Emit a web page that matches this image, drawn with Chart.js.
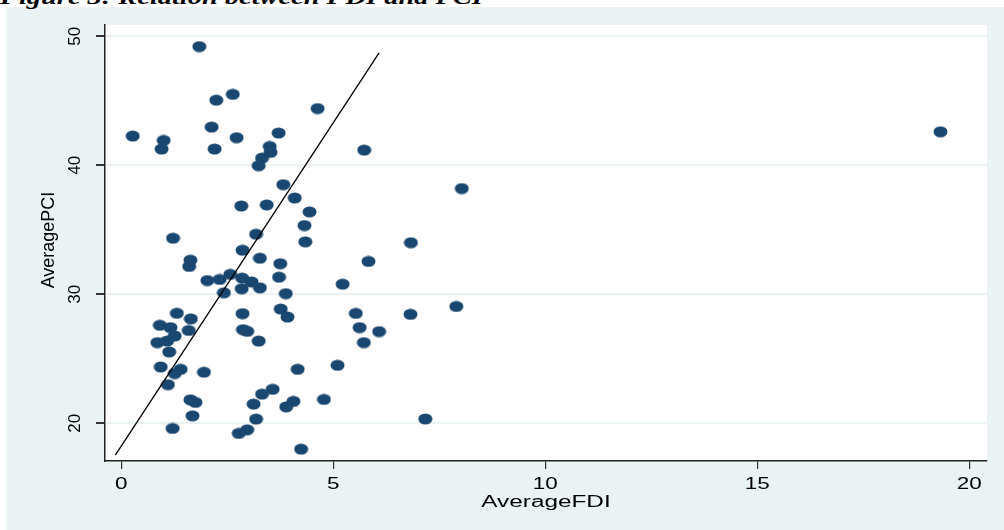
<!DOCTYPE html>
<html>
<head>
<meta charset="utf-8">
<script src="https://cdn.jsdelivr.net/npm/chart.js@4/dist/chart.umd.min.js"></script>
<style>
  html, body { margin: 0; padding: 0; background: #ffffff; width: 1004px; height: 530px; overflow: hidden; position: relative; }
  #panel { position: absolute; left: 6px; top: 7px; width: 998px; height: 523px; background: #eaf2f3; }
  #fig { position: absolute; left: 0; top: -13px; margin: 0; font: bold italic 20px "Liberation Serif", "Times New Roman", serif;
         line-height: 20px; white-space: nowrap; transform: scaleX(1.42); transform-origin: 0 0; color: #000; }
  #wrap { position: absolute; left: 0; top: 0; width: 1004px; height: 530px; }
</style>
</head>
<body>
<div id="panel"></div>
<div id="fig">Figure 3: Relation between FDI and PCI</div>
<div id="wrap"><canvas id="c" width="1004" height="530"></canvas></div>
<script>
// Average FDI (x) and average PCI (y), one entry per province
const avgFDI = [
  1.84, 2.63, 2.24, 4.63, 2.13, 0.27, 1.00, 3.71, 2.72, 0.95, 2.20, 3.50, 3.52, 3.32, 3.24, 5.73, 19.32,
  3.82, 8.03, 4.09, 2.83, 3.43, 4.44,
  4.32, 4.34, 3.18, 6.83, 1.22, 2.86, 1.63, 1.60, 3.27, 3.75, 5.83, 3.72, 5.22,
  2.03, 2.32, 2.57, 2.85, 3.07, 3.27, 2.84, 2.42, 3.88,
  1.31, 1.64, 2.86, 3.76, 3.92, 5.53, 6.82, 7.90,
  0.91, 1.16, 1.59, 1.26, 0.85, 1.08, 2.87, 2.97, 3.24, 1.13, 5.62, 6.08, 5.72,
  0.93, 1.40, 1.26, 1.95, 1.10, 4.16, 5.10,
  1.63, 1.75, 1.68, 1.21, 3.57, 3.32, 3.12, 4.06, 3.89, 4.78, 3.18, 2.97, 2.77, 4.24, 7.17
];
const avgPCI = [
  49.20, 45.50, 45.05, 44.40, 42.96, 42.27, 41.93, 42.50, 42.14, 41.26, 41.26, 41.46, 41.00, 40.56, 39.97, 41.18, 42.60,
  38.50, 38.20, 37.47, 36.85, 36.93, 36.39,
  35.33, 34.07, 34.66, 34.00, 34.35, 33.42, 32.65, 32.16, 32.80, 32.37, 32.55, 31.33, 30.79,
  31.07, 31.15, 31.55, 31.26, 30.96, 30.50, 30.43, 30.12, 30.05,
  28.53, 28.10, 28.50, 28.86, 28.24, 28.52, 28.45, 29.06,
  27.60, 27.42, 27.20, 26.77, 26.26, 26.38, 27.26, 27.13, 26.38, 25.53, 27.42, 27.11, 26.26,
  24.37, 24.19, 23.86, 23.96, 23.00, 24.19, 24.50,
  21.82, 21.62, 20.58, 19.60, 22.64, 22.26, 21.49, 21.70, 21.28, 21.85, 20.33, 19.50, 19.22, 18.00, 20.34
];

// Straight reference line, given by its two end points
const lineX = [-0.14, 6.08];
const lineY = [17.54, 48.71];

// Axis ticks and titles
const xTicks = [0, 5, 10, 15, 20];
const yTicks = [20, 30, 40, 50];
const xTitle = 'AverageFDI';
const yTitle = 'AveragePCI';

const NAVY = '#1a476f';
const LIGHT = '#eaf2f3';
const SANS = '"Liberation Sans", Arial, Helvetica, sans-serif';

// Oval marker sprite
const marker = document.createElement('canvas');
marker.width = 15; marker.height = 12;
(function () {
  const g = marker.getContext('2d');
  g.fillStyle = NAVY;
  g.beginPath();
  g.ellipse(7.5, 6, 7, 5.5, 0, 0, Math.PI * 2);
  g.fill();
})();

// White plotting region inside the tinted frame
const plotBackground = {
  id: 'plotBackground',
  beforeDraw(chart) {
    const { ctx, chartArea: a } = chart;
    ctx.save();
    ctx.fillStyle = '#ffffff';
    ctx.fillRect(a.left, a.top, a.right - a.left, a.bottom - a.top);
    ctx.restore();
  }
};

// Tick labels and axis titles (wide horizontal text, upright rotated text on the left)
const axisText = {
  id: 'axisText',
  afterDraw(chart) {
    const { ctx, chartArea: a, scales: { x, y } } = chart;
    ctx.save();
    ctx.fillStyle = '#000';
    ctx.textAlign = 'center';
    ctx.textBaseline = 'alphabetic';

    ctx.font = '16px ' + SANS;
    xTicks.forEach(v => {
      ctx.save();
      ctx.translate(x.getPixelForValue(v), a.bottom + 28);
      ctx.scale(1.4, 1);
      ctx.fillText(String(v), 0, 0);
      ctx.restore();
    });
    ctx.save();
    ctx.translate((a.left + a.right) / 2, a.bottom + 45.5);
    ctx.scale(1.52, 1);
    ctx.fillText(xTitle, 0, 0);
    ctx.restore();

    ctx.font = '17px ' + SANS;
    yTicks.forEach(v => {
      ctx.save();
      ctx.translate(a.left - 25.5, y.getPixelForValue(v));
      ctx.rotate(-Math.PI / 2);
      ctx.fillText(String(v), 0, 0);
      ctx.restore();
    });
    ctx.font = '18px ' + SANS;
    ctx.save();
    ctx.translate(a.left - 50.7, (a.top + a.bottom) / 2 - 3);
    ctx.rotate(-Math.PI / 2);
    ctx.fillText(yTitle, 0, 0);
    ctx.restore();
    ctx.restore();
  }
};

new Chart(document.getElementById('c'), {
  type: 'scatter',
  data: {
    datasets: [
      {
        data: lineX.map((v, i) => ({ x: v, y: lineY[i] })),
        type: 'line',
        showLine: true,
        borderColor: '#000',
        borderWidth: 1.3,
        pointRadius: 0,
        fill: false,
        order: 0
      },
      {
        data: avgFDI.map((v, i) => ({ x: v, y: avgPCI[i] })),
        pointStyle: marker,
        pointRadius: 7,
        backgroundColor: NAVY,
        borderWidth: 0,
        order: 1
      }
    ]
  },
  options: {
    responsive: false,
    animation: false,
    events: [],
    layout: { padding: { top: 25, right: 17, left: 0, bottom: 0 } },
    plugins: { legend: { display: false }, tooltip: { enabled: false } },
    scales: {
      x: {
        type: 'linear',
        min: -0.384,
        max: 20.417,
        afterBuildTicks: s => { s.ticks = xTicks.map(v => ({ value: v })); },
        afterFit: s => { s.height = 69; },
        ticks: { display: false },
        grid: { drawOnChartArea: false, drawTicks: true, tickLength: 8, tickColor: '#333', lineWidth: 1.2 },
        border: { color: '#222', width: 1.5 }
      },
      y: {
        type: 'linear',
        min: 17.08,
        max: 50.876,
        afterBuildTicks: s => { s.ticks = yTicks.map(v => ({ value: v })); },
        afterFit: s => { s.width = 105; },
        ticks: { display: false },
        grid: { drawOnChartArea: true, color: LIGHT, lineWidth: 2, drawTicks: true, tickLength: 9, tickColor: '#333' },
        border: { color: '#222', width: 1.5 }
      }
    }
  },
  plugins: [plotBackground, axisText]
});
</script>
</body>
</html>
